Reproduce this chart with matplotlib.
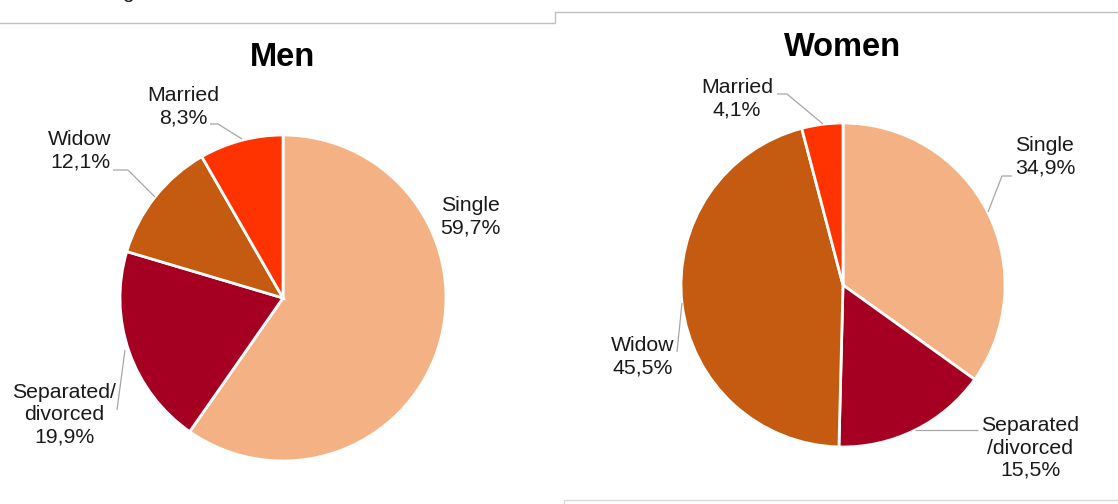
import matplotlib
matplotlib.use('Agg')
import matplotlib.pyplot as plt

plt.rcParams['font.family'] = ['Liberation Sans', 'DejaVu Sans']

# data
categories = ['Single', 'Separated/divorced', 'Widow', 'Married']
men = [59.7, 19.9, 12.1, 8.3]
women = [34.9, 15.5, 45.5, 4.1]
colors = ['#F4B183', '#A50021', '#C55A11', '#FF3300']

men_labels = ['Single\n59,7%', 'Separated/\ndivorced\n19,9%', 'Widow\n12,1%', 'Married\n8,3%']
women_labels = ['Single\n34,9%', 'Separated\n/divorced\n15,5%', 'Widow\n45,5%', 'Married\n4,1%']

W, H = 1118, 504
fig = plt.figure(figsize=(W / 100, H / 100), dpi=100)
ax = fig.add_axes([0, 0, 1, 1])


def up(y):
    # image pixel row -> axis y
    return H - y


wp = dict(edgecolor='white', linewidth=2)
ax.pie(men, colors=colors, startangle=90, counterclock=False,
       center=(283, up(298)), radius=163, wedgeprops=wp, frame=False)
ax.pie(women, colors=colors, startangle=90, counterclock=False,
       center=(843, up(285)), radius=162, wedgeprops=wp, frame=False)

ax.set_xlim(0, W)
ax.set_ylim(0, H)
ax.set_aspect('auto')
ax.axis('off')

txt = '#1a1a1a'
lc = '#A6A6A6'

# label positions (image px) and leader lines
men_pos = [(470, 217), (64, 415), (80, 151), (183, 107)]
men_lead = [None,
            [(117, 410), (125, 350)],
            [(113, 170), (128, 170), (155, 197)],
            [(210, 124), (218, 124), (242, 139)]]
women_pos = [(1045, 157), (1030, 448), (643, 357), (737, 99)]
women_lead = [[(1012, 176), (1002, 176), (988, 212)],
              [(978, 430), (915, 430)],
              [(677, 352), (682, 303)],
              [(777, 94), (787, 94), (823, 124)]]

for labels, pos, leads in [(men_labels, men_pos, men_lead),
                           (women_labels, women_pos, women_lead)]:
    for lab, (x, y), ld in zip(labels, pos, leads):
        ax.text(x, up(y), lab, ha='center', va='center', fontsize=15.3,
                color=txt, linespacing=1.22)
        if ld:
            ax.plot([p[0] for p in ld], [up(p[1]) for p in ld],
                    color=lc, lw=0.9, solid_capstyle='butt')

ax.text(283, up(58), 'Men', ha='center', va='center', fontsize=23.5,
        fontweight='bold', color='black')
ax.text(843, up(47), 'Women', ha='center', va='center', fontsize=23.5,
        fontweight='bold', color='black')

# panel borders
ax.plot([0, 555, 555, W], [up(23), up(23), up(12), up(12)],
        color='#BFBFBF', lw=1)
ax.plot([564, 564, W], [up(505), up(500), up(500)], color='#D9D9D9', lw=1)
# clipped descender of a heading above the chart
ax.text(128, up(-1.5), 'g', ha='center', va='baseline', fontsize=15,
        color=txt)

fig.savefig('out.png', dpi=100)
